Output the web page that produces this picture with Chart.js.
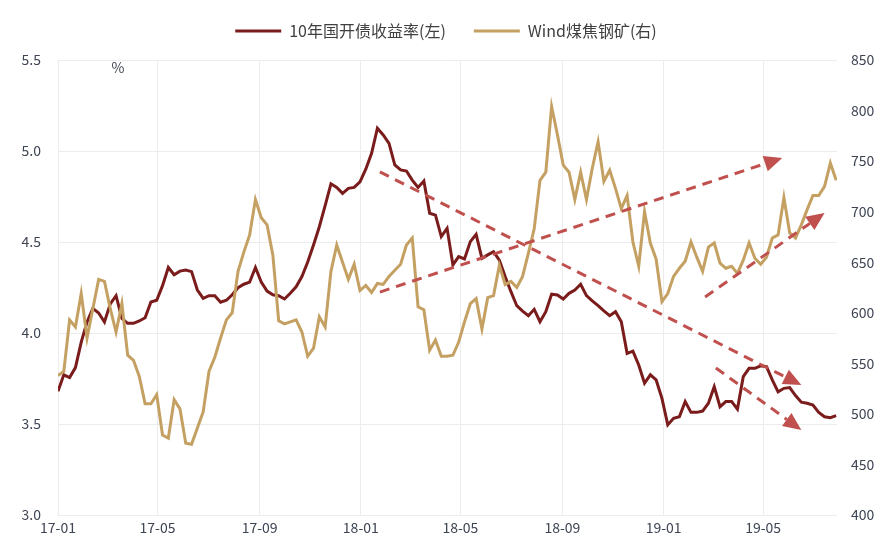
<!DOCTYPE html>
<html>
<head>
<meta charset="utf-8">
<script src="https://cdn.jsdelivr.net/npm/chart.js@4"></script>
<style>
  html, body { margin: 0; padding: 0; background: #fff; }
  #wrap { width: 892px; height: 556px; }
</style>
</head>
<body>
<div id="wrap"><canvas id="chart"></canvas></div>
<script>
// weekly observations starting 2017-01-01
const startDate = "2017-01-01";

// 10年国开债收益率 (%), left axis
const yieldValues = [
    3.68, 3.77, 3.755, 3.81, 3.95, 4.06, 4.135, 4.11, 4.06, 4.16,
    4.205, 4.08, 4.053, 4.053, 4.066, 4.084, 4.17, 4.18, 4.26, 4.36,
    4.32, 4.34, 4.346, 4.337, 4.236, 4.19, 4.205, 4.205, 4.169, 4.18,
    4.21, 4.249, 4.268, 4.28, 4.36, 4.28, 4.23, 4.21, 4.205, 4.187,
    4.218, 4.254, 4.31, 4.39, 4.484, 4.584, 4.70, 4.82, 4.80, 4.767,
    4.795, 4.80, 4.83, 4.90, 4.987, 5.125, 5.088, 5.042, 4.923, 4.896,
    4.89, 4.84, 4.80, 4.835, 4.658, 4.648, 4.53, 4.575, 4.374, 4.42,
    4.407, 4.502, 4.542, 4.41, 4.429, 4.447, 4.40, 4.31, 4.227, 4.15,
    4.12, 4.095, 4.13, 4.062, 4.117, 4.213, 4.209, 4.187, 4.218, 4.236,
    4.268, 4.205, 4.176, 4.15, 4.121, 4.095, 4.117, 4.062, 3.888, 3.90,
    3.824, 3.724, 3.77, 3.742, 3.641, 3.495, 3.531, 3.54, 3.623, 3.564,
    3.564, 3.571, 3.614, 3.705, 3.595, 3.623, 3.623, 3.582, 3.76, 3.806,
    3.806, 3.82, 3.815, 3.742, 3.677, 3.696, 3.70, 3.656, 3.62, 3.614,
    3.604, 3.564, 3.54, 3.535, 3.546
];

// Wind煤焦钢矿 index, right axis
const coalValues = [
    538, 542, 593, 586, 619, 575, 604, 633, 631, 604,
    581, 609, 558, 553, 537, 510, 510, 519, 479, 476,
    514, 505, 471, 470, 486, 502, 542, 556, 575, 593,
    600, 641, 660, 677, 712, 694, 687, 657, 592, 589,
    591, 593, 581, 557, 565, 596, 586, 641, 667, 650,
    633, 648, 622, 627, 620, 629, 628, 636, 642, 648,
    667, 674, 606, 603, 563, 573, 557, 557, 558, 571,
    591, 609, 614, 584, 615, 617, 647, 628, 631, 625,
    636, 659, 683, 731, 739, 804, 776, 746, 739, 712,
    739, 712, 743, 769, 730, 741, 723, 703, 716, 670,
    646, 700, 669, 653, 611, 619, 636, 644, 651, 670,
    655, 641, 665, 669, 649, 644, 646, 639, 652, 669,
    654, 648, 655, 674, 677, 714, 679, 674, 687, 702,
    716, 716, 725, 748, 731
];

const tickLabels = ["17-01", "17-05", "17-09", "18-01", "18-05", "18-09", "19-01", "19-05"];
const tickDates = ["2017-01-01", "2017-05-01", "2017-09-01", "2018-01-01", "2018-05-01", "2018-09-01", "2019-01-01", "2019-05-01"];

// trend arrows: [date, yield] -> [date, yield]
const arrows = [
    { from: ["2018-01-24", 4.885], to: ["2019-06-16", 3.714] },
    { from: ["2018-01-24", 4.225], to: ["2019-05-24", 4.962] },
    { from: ["2019-03-05", 3.808], to: ["2019-06-16", 3.467] },
    { from: ["2019-02-20", 4.198], to: ["2019-07-14", 4.659] }
];

const DAY = 86400000;
const t0 = Date.parse(startDate);
const dayOf = (d) => Math.round((Date.parse(d) - t0) / DAY);
const tickDays = tickDates.map(dayOf);

const yieldPoints = yieldValues.map((v, i) => ({ x: i * 7, y: v }));
const coalPoints = coalValues.map((v, i) => ({ x: i * 7, y: v }));

const textColor = "#3d4452";
const gridColor = "#ececec";
const arrowColor = "#c0504d";

Chart.defaults.font.family = '"Noto Sans CJK SC", "Microsoft YaHei", sans-serif';
Chart.defaults.font.size = 14;
Chart.defaults.color = textColor;

const legendHeight = {
    id: "legendHeight",
    beforeInit(chart) {
        const fit = chart.legend.fit;
        chart.legend.fit = function () {
            fit.call(this);
            this.height = 65;
        };
    }
};

const trendArrows = {
    id: "trendArrows",
    afterDatasetsDraw(chart) {
        const { ctx, scales } = chart;
        const xs = scales.x;
        const ys = scales.y;
        ctx.save();
        ctx.strokeStyle = arrowColor;
        ctx.fillStyle = arrowColor;
        ctx.lineWidth = 3;
        arrows.forEach((a) => {
            const x1 = xs.getPixelForValue(dayOf(a.from[0]));
            const y1 = ys.getPixelForValue(a.from[1]);
            const x2 = xs.getPixelForValue(dayOf(a.to[0]));
            const y2 = ys.getPixelForValue(a.to[1]);
            const ang = Math.atan2(y2 - y1, x2 - x1);
            const head = 18;
            const half = 8;
            const bx = x2 - head * Math.cos(ang);
            const by = y2 - head * Math.sin(ang);
            ctx.setLineDash([10, 7]);
            ctx.beginPath();
            ctx.moveTo(x1, y1);
            ctx.lineTo(bx, by);
            ctx.stroke();
            ctx.setLineDash([]);
            ctx.beginPath();
            ctx.moveTo(x2, y2);
            ctx.lineTo(bx + half * Math.sin(ang), by - half * Math.cos(ang));
            ctx.lineTo(bx - half * Math.sin(ang), by + half * Math.cos(ang));
            ctx.closePath();
            ctx.fill();
        });
        ctx.restore();
    }
};

const unitLabel = {
    id: "unitLabel",
    afterDraw(chart) {
        const { ctx, chartArea } = chart;
        ctx.save();
        ctx.fillStyle = textColor;
        ctx.font = '14px "Noto Sans CJK SC", sans-serif';
        ctx.textAlign = "center";
        ctx.textBaseline = "middle";
        ctx.fillText("%", chartArea.left + 60, chartArea.top + 8);
        ctx.restore();
    }
};

new Chart(document.getElementById("chart"), {
    type: "line",
    data: {
        datasets: [
            {
                label: "10年国开债收益率(左)",
                data: yieldPoints,
                yAxisID: "y",
                borderColor: "#7a1c1b",
                backgroundColor: "#7a1c1b",
                borderWidth: 3,
                pointRadius: 0,
                pointStyle: "line",
                tension: 0,
                order: 2
            },
            {
                label: "Wind煤焦钢矿(右)",
                data: coalPoints,
                yAxisID: "y1",
                borderColor: "#c4a062",
                backgroundColor: "#c4a062",
                borderWidth: 3,
                pointRadius: 0,
                pointStyle: "line",
                tension: 0,
                order: 1
            }
        ]
    },
    options: {
        responsive: true,
        maintainAspectRatio: false,
        animation: false,
        layout: { padding: { top: -5, left: 0, right: 0, bottom: 0 } },
        plugins: {
            legend: {
                position: "top",
                labels: {
                    usePointStyle: true,
                    pointStyleWidth: 46,
                    boxHeight: 16,
                    padding: 28,
                    color: "#404040",
                    font: { size: 16 },
                    sort: (a, b) => a.datasetIndex - b.datasetIndex
                }
            },
            tooltip: { enabled: false }
        },
        scales: {
            x: {
                type: "linear",
                min: 0,
                max: 939,
                afterBuildTicks: (scale) => {
                    scale.ticks = tickDays.map((v) => ({ value: v }));
                },
                afterFit: (scale) => { scale.height = 41; },
                ticks: {
                    autoSkip: false,
                    maxRotation: 0,
                    padding: 4,
                    callback: (v) => tickLabels[tickDays.indexOf(v)] || ""
                },
                grid: { color: gridColor, drawTicks: false },
                border: { display: false }
            },
            y: {
                position: "left",
                min: 3,
                max: 5.5,
                afterFit: (scale) => { scale.width = 58; },
                ticks: {
                    stepSize: 0.5,
                    padding: 17,
                    callback: (v) => v.toFixed(1)
                },
                grid: { color: gridColor, drawTicks: false },
                border: { display: false }
            },
            y1: {
                position: "right",
                min: 400,
                max: 850,
                afterFit: (scale) => { scale.width = 55; },
                ticks: { stepSize: 50, padding: 14 },
                grid: { drawOnChartArea: false, drawTicks: false },
                border: { display: false }
            }
        }
    },
    plugins: [legendHeight, trendArrows, unitLabel]
});
</script>
</body>
</html>
